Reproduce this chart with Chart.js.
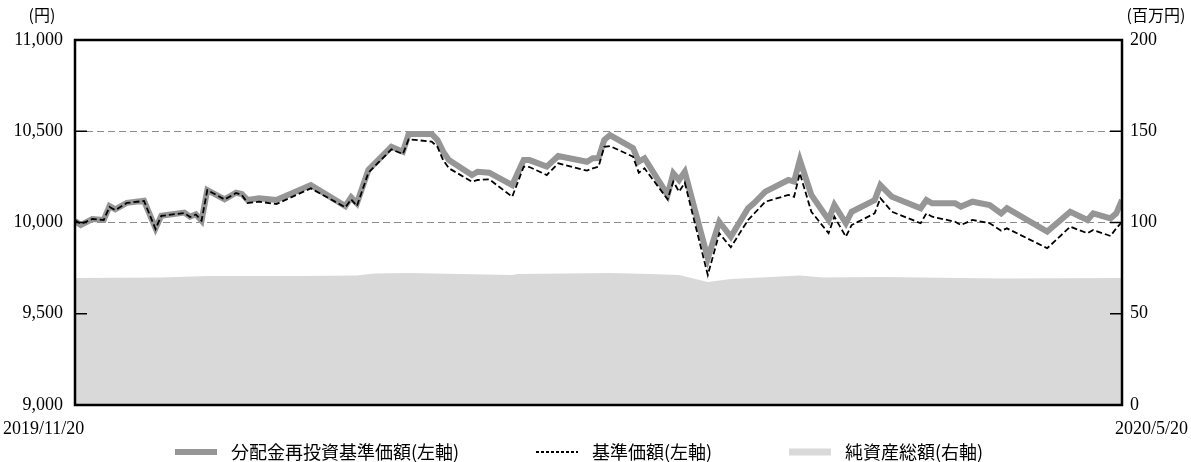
<!DOCTYPE html>
<html>
<head>
<meta charset="utf-8">
<script src="https://cdn.jsdelivr.net/npm/chart.js@4/dist/chart.umd.min.js"></script>
<style>
  html, body { margin: 0; padding: 0; background: #fff; }
  #wrap { width: 1191px; height: 462px; }
</style>
</head>
<body>
<div id="wrap"><canvas id="fundChart"></canvas></div>
<script>
// 基準価額の推移 (2019/11/20 - 2020/5/20)
const dates = [
  '2019/11/20','2019/11/21','2019/11/23','2019/11/25','2019/11/26','2019/11/27','2019/11/29',
  '2019/12/2','2019/12/4','2019/12/5','2019/12/9','2019/12/10','2019/12/11','2019/12/12','2019/12/13',
  '2019/12/16','2019/12/18','2019/12/19','2019/12/20','2019/12/22','2019/12/25','2019/12/31',
  '2020/1/6','2020/1/7','2020/1/8','2020/1/10','2020/1/14','2020/1/16','2020/1/17','2020/1/21',
  '2020/1/22','2020/1/23','2020/1/24','2020/1/28','2020/1/29','2020/1/31',
  '2020/2/4','2020/2/6','2020/2/7','2020/2/10','2020/2/12','2020/2/17','2020/2/18','2020/2/19',
  '2020/2/20','2020/2/21','2020/2/25','2020/2/26','2020/2/27',
  '2020/3/2','2020/3/3','2020/3/4','2020/3/5','2020/3/9','2020/3/11','2020/3/13','2020/3/16',
  '2020/3/17','2020/3/19','2020/3/23','2020/3/24','2020/3/25','2020/3/27','2020/3/30','2020/3/31',
  '2020/4/2','2020/4/3','2020/4/7','2020/4/8','2020/4/10','2020/4/15','2020/4/16','2020/4/17',
  '2020/4/21','2020/4/22','2020/4/24','2020/4/27','2020/4/29','2020/4/30',
  '2020/5/7','2020/5/11','2020/5/14','2020/5/15','2020/5/18','2020/5/19','2020/5/20'
];
// 分配金再投資基準価額 (左軸, 円)
const reinvestNav = [
  10008, 9986, 10019, 10014, 10090, 10072, 10108,
  10119, 9968, 10037, 10054, 10032, 10045, 10010, 10178,
  10127, 10163, 10156, 10123, 10133, 10123, 10205,
  10090, 10138, 10105, 10288, 10415, 10388, 10485, 10485,
  10452, 10388, 10342, 10260, 10278, 10273,
  10205, 10342, 10342, 10306, 10364, 10333, 10352, 10353,
  10452, 10479, 10407, 10333, 10352,
  10151, 10270, 10233, 10278, 9804, 10004, 9922, 10078,
  10105, 10169, 10233, 10224, 10342, 10151, 10014, 10096,
  9996, 10059, 10123, 10205, 10141, 10078, 10123, 10105,
  10105, 10087, 10114, 10096, 10050, 10078,
  9950, 10059, 10014, 10050, 10023, 10050, 10123
];
// 基準価額 (左軸, 円)
const nav = [
  10014, 9992, 10019, 10014, 10085, 10068, 10107,
  10118, 9964, 10036, 10052, 10030, 10044, 10010, 10178,
  10126, 10162, 10151, 10107, 10114, 10101, 10187,
  10083, 10127, 10090, 10273, 10401, 10375, 10456, 10443,
  10415, 10342, 10297, 10224, 10233, 10237,
  10141, 10306, 10304, 10260, 10324, 10284, 10297, 10306,
  10415, 10419, 10361, 10273, 10297,
  10127, 10224, 10169, 10218, 9712, 9941, 9864, 10014,
  10047, 10114, 10151, 10141, 10270, 10059, 9941, 10032,
  9922, 9986, 10050, 10133, 10059, 9996, 10050, 10032,
  10004, 9986, 10014, 9996, 9955, 9968,
  9859, 9977, 9941, 9959, 9926, 9968, 10004
];
// 純資産総額 (右軸, 百万円)
const assetDates = [
  '2019/11/20','2019/12/5','2019/12/13','2019/12/29','2020/1/8','2020/1/11','2020/1/17',
  '2020/2/4','2020/2/5','2020/2/21','2020/2/28','2020/3/4','2020/3/9','2020/3/13',
  '2020/3/25','2020/3/29','2020/4/8','2020/4/29','2020/5/20'
];
const netAssets = [
  69.6, 69.9, 70.7, 70.7, 71.0, 72.1, 72.3,
  71.2, 71.8, 72.3, 71.8, 71.2, 67.4, 69.0,
  71.0, 69.9, 70.1, 69.3, 69.6
];
const leftTicks = [9000, 9500, 10000, 10500, 11000];
const rightTicks = [0, 50, 100, 150, 200];
const startLabel = '2019/11/20';
const endLabel = '2020/5/20';

function dayOf(s) {
  const [y, m, d] = s.split('/').map(Number);
  return Math.round((Date.UTC(y, m - 1, d) - Date.UTC(2019, 10, 20)) / 86400000);
}
const toPoints = (ds, vs) => ds.map((d, i) => ({x: dayOf(d), y: vs[i]}));

const serif = '"Liberation Serif", "Noto Sans CJK JP", serif';
const jp = '"Noto Sans CJK JP", sans-serif';

// legend swatches, drawn by hand so the wide gaps match
const legendItems = [
  {x: 175, color: '#969696', width: 6, dash: []},
  {x: 536, color: '#000', width: 2, dash: [3, 2]},
  {x: 789, color: '#d9d9d9', width: 7, dash: []}
];

const frame = {
  id: 'frame',
  afterDatasetsDraw(chart) {
    const {ctx, chartArea: a, scales} = chart;
    ctx.save();
    ctx.strokeStyle = '#000';
    ctx.lineWidth = 1.5;
    leftTicks.forEach(v => {
      const y = scales.y.getPixelForValue(v);
      ctx.beginPath(); ctx.moveTo(a.left, y); ctx.lineTo(a.left + 12, y); ctx.stroke();
    });
    rightTicks.forEach(v => {
      const y = scales.y1.getPixelForValue(v);
      ctx.beginPath(); ctx.moveTo(a.right - 12, y); ctx.lineTo(a.right, y); ctx.stroke();
    });
    ctx.lineWidth = 2.5;
    ctx.strokeRect(a.left, a.top, a.right - a.left, a.bottom - a.top);
    ctx.restore();
  },
  afterDraw(chart) {
    const {ctx, chartArea: a} = chart;
    ctx.save();
    ctx.fillStyle = '#000';
    ctx.textBaseline = 'middle';
    ctx.font = '16px ' + jp;
    ctx.textAlign = 'center';
    ctx.fillText('(円)', 42, 15);
    ctx.fillText('(百万円)', 1156, 15);
    ctx.font = '18px ' + serif;
    ctx.textAlign = 'left';
    ctx.fillText(startLabel, 3, a.bottom + 24);
    ctx.textAlign = 'right';
    ctx.fillText(endLabel, 1188, a.bottom + 24);

    // legend
    const ly = 452;
    ctx.textAlign = 'left';
    ctx.font = '18px ' + jp;
    chart.data.datasets.forEach((ds, i) => {
      const it = legendItems[i];
      ctx.beginPath();
      ctx.strokeStyle = it.color;
      ctx.lineWidth = it.width;
      ctx.setLineDash(it.dash);
      ctx.moveTo(it.x, ly);
      ctx.lineTo(it.x + 42, ly);
      ctx.stroke();
      ctx.setLineDash([]);
      ctx.fillText(ds.label, it.x + 56, ly);
    });
    ctx.restore();
  }
};

new Chart(document.getElementById('fundChart'), {
  type: 'line',
  data: {
    datasets: [
      {
        label: '分配金再投資基準価額(左軸)',
        data: toPoints(dates, reinvestNav),
        borderColor: '#969696',
        borderWidth: 6,
        pointRadius: 0,
        yAxisID: 'y',
        order: 2
      },
      {
        label: '基準価額(左軸)',
        data: toPoints(dates, nav),
        borderColor: '#000',
        borderWidth: 1.8,
        borderDash: [6, 3],
        pointRadius: 0,
        yAxisID: 'y',
        order: 1
      },
      {
        label: '純資産総額(右軸)',
        data: toPoints(assetDates, netAssets),
        borderWidth: 0,
        borderColor: '#d9d9d9',
        backgroundColor: '#d9d9d9',
        fill: 'origin',
        pointRadius: 0,
        yAxisID: 'y1',
        order: 3
      }
    ]
  },
  options: {
    responsive: true,
    maintainAspectRatio: false,
    animation: false,
    layout: {padding: {top: 40, left: 0, right: 0, bottom: 0}},
    scales: {
      x: {
        type: 'linear',
        min: 0,
        max: 182,
        ticks: {display: false},
        grid: {display: false},
        border: {display: false},
        afterFit(s) { s.height = 57; }
      },
      y: {
        position: 'left',
        min: 9000,
        max: 11000,
        afterBuildTicks(s) { s.ticks = leftTicks.map(v => ({value: v})); },
        ticks: {
          color: '#000',
          padding: 12,
          font: {family: serif, size: 18},
          callback: v => v.toLocaleString('en-US')
        },
        grid: {
          color: '#8c8c8c',
          lineWidth: 1,
          drawTicks: false
        },
        border: {display: false, dash: [7, 4]},
        afterFit(s) { s.width = 75; }
      },
      y1: {
        position: 'right',
        min: 0,
        max: 200,
        afterBuildTicks(s) { s.ticks = rightTicks.map(v => ({value: v})); },
        ticks: {
          color: '#000',
          padding: 8,
          font: {family: serif, size: 18}
        },
        grid: {display: false, drawTicks: false},
        border: {display: false},
        afterFit(s) { s.width = 69; }
      }
    },
    plugins: {
      tooltip: {enabled: false},
      legend: {display: false}
    }
  },
  plugins: [frame]
});
</script>
</body>
</html>
